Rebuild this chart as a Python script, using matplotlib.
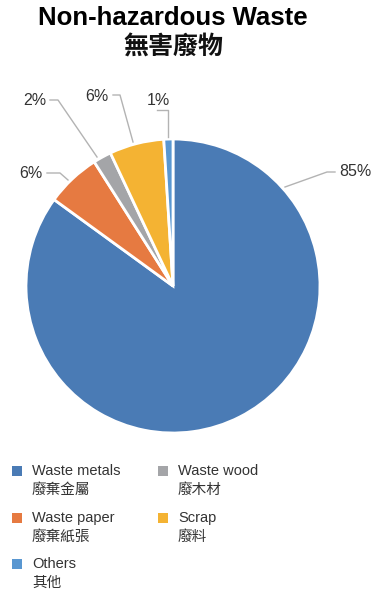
import matplotlib.pyplot as plt
from matplotlib.patches import Rectangle

# ---------------- data ----------------
categories_en = ["Waste metals", "Waste paper", "Waste wood", "Scrap", "Others"]
categories_zh = ["廢棄金屬", "廢棄紙張", "廢木材", "廢料", "其他"]
shares = [85, 6, 2, 6, 1]
colors = ["#4a7bb5", "#e67a41", "#a4a5a8", "#f4b333", "#5997d1"]

FONT = ["Liberation Sans", "Noto Sans CJK TC", "DejaVu Sans"]
plt.rcParams["font.family"] = FONT

W, H = 376, 590
fig = plt.figure(figsize=(W / 100, H / 100), dpi=100)

# pie centre (173,286) px, radius 147 px
cx, cy, r = 173, 286, 147
ax = fig.add_axes([(cx - r) / W, (H - cy - r) / H, 2 * r / W, 2 * r / H])
ax.pie(shares, colors=colors, startangle=90, counterclock=False,
       wedgeprops=dict(edgecolor="white", linewidth=2))
ax.set_xlim(-1, 1)
ax.set_ylim(-1, 1)
ax.set_aspect("equal")
ax.axis("off")


def px(x, y):
    return ((x - cx) / r, (cy - y) / r)


# leader lines (pixel layout) and label anchors, one per wedge
leaders = [
    [(285, 187), (327, 172), (335, 172)],
    [(68, 180), (60, 173), (47, 173)],
    [(97, 157), (58, 100), (50, 100)],
    [(133, 142), (120, 95), (113, 95)],
    [(168, 137), (168, 110), (157, 110)],
]
label_pos = [(339, 172, "left"), (42, 174, "right"), (46, 101, "right"),
             (109, 97, "right"), (158, 101, "center")]

for pts, (lx, ly, ha), v in zip(leaders, label_pos, shares):
    dpts = [px(*p) for p in pts]
    ax.plot([p[0] for p in dpts], [p[1] for p in dpts], color="#b3b3b3",
            lw=1, clip_on=False)
    tx, ty = px(lx, ly)
    ax.text(tx, ty, f"{v}%", ha=ha, va="center", fontsize=11.5,
            color="#333333", clip_on=False)

# title
fig.text(173 / W, 1 - 18 / H, "Non-hazardous Waste", ha="center", va="center",
         fontsize=18.5, fontweight="bold", color="#000000")
fig.text(173 / W, 1 - 48 / H, "無害廢物", ha="center", va="center",
         fontsize=18, fontweight="bold", color="#111111",
         family=["Noto Sans CJK TC", "DejaVu Sans"])

# legend slots: (column, row) for each category
legend_slot = [(0, 0), (0, 1), (1, 0), (1, 1), (0, 2)]
col_x = [17, 163]
row_y = [471, 518, 564]
for (ci, ri), en, zh, c in zip(legend_slot, categories_en, categories_zh, colors):
    x0 = col_x[ci]
    y0 = row_y[ri]
    fig.add_artist(Rectangle(((x0 - 5) / W, 1 - (y0 + 5) / H), 10 / W, 10 / H,
                             transform=fig.transFigure, color=c, lw=0))
    fig.text((x0 + 15) / W, 1 - y0 / H, en, ha="left", va="center",
             fontsize=10.5, color="#333333")
    fig.text((x0 + 15) / W, 1 - (y0 + 19) / H, zh, ha="left", va="center",
             fontsize=10.5, color="#333333",
             family=["Noto Sans CJK TC", "DejaVu Sans"])

fig.savefig("out.png", dpi=100)
